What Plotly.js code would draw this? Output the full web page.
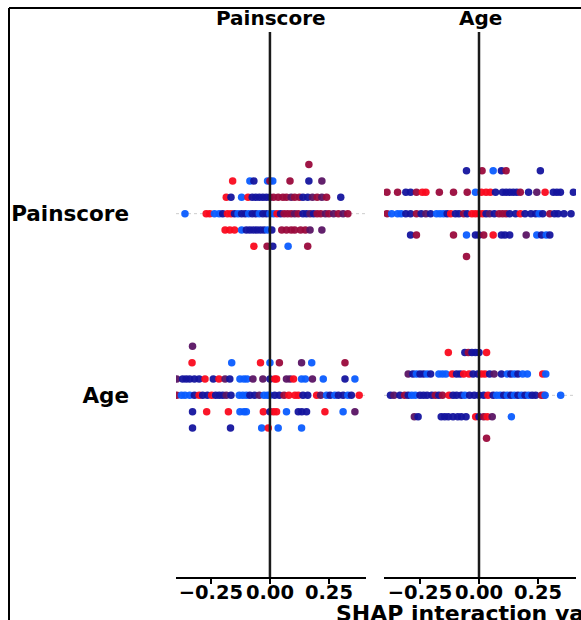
<!DOCTYPE html>
<html>
<head>
<meta charset="utf-8">
<script src="https://cdn.plot.ly/plotly-3.0.1.min.js"></script>
<style>html,body{margin:0;padding:0;background:#fff}</style>
</head>
<body>
<div id="chart" style="width:581px;height:620px"></div>
<script>
// Features (rows top->bottom) and columns
const features = ["Painscore", "Age"];
const rowPos = [1, 0];            // y position of each feature row
const tickVals = [-0.25, 0, 0.25];

// Colour codes (feature value): 0 = low (blue) ... 1 = high (red)
// ---- Column "Painscore", row "Painscore"
const pp_x = [0.165,
  -0.158,-0.085,-0.068,-0.01,0.0,0.012,0.085,0.165,0.22,
  -0.185,-0.165,-0.12,-0.093,-0.075,-0.06,-0.045,-0.03,-0.015,0.0,0.015,0.035,0.055,0.07,0.09,0.105,0.125,0.14,0.16,0.18,0.2,0.22,0.24,0.30,
  -0.36,-0.27,-0.255,-0.235,-0.215,-0.2,-0.18,-0.165,-0.15,-0.135,-0.12,-0.105,-0.09,-0.075,-0.06,-0.045,-0.03,-0.015,0.0,0.015,0.03,0.045,0.06,0.075,0.09,0.105,0.12,0.14,0.155,0.17,0.185,0.2,0.215,0.235,0.25,0.27,0.29,0.31,0.33,
  -0.19,-0.17,-0.15,-0.12,-0.1,-0.085,-0.07,-0.055,-0.04,-0.025,-0.01,0.008,0.05,0.07,0.09,0.105,0.13,0.15,0.17,0.22,
  -0.068,-0.012,0.012,0.077,0.16];
const pp_row = [3,
  2,2,2,2,2,2,2,2,2,
  1,1,1,1,1,1,1,1,1,1,1,1,1,1,1,1,1,1,1,1,1,1,1,1,
  0,0,0,0,0,0,0,0,0,0,0,0,0,0,0,0,0,0,0,0,0,0,0,0,0,0,0,0,0,0,0,0,0,0,0,0,0,0,0,
  -1,-1,-1,-1,-1,-1,-1,-1,-1,-1,-1,-1,-1,-1,-1,-1,-1,-1,-1,-1,
  -2,-2,-2,-2,-2];
const pp_c = [0.75,
  1,0,0.25,0,0.75,0,0.75,0.25,0.5,
  1,0.25,0,1,0.25,0.25,0.25,0.25,0.25,0.25,0.75,0.75,0.75,0.75,0.5,0.75,0.75,0.25,0.25,0.5,0.75,0.5,0.75,0.25,
  0,1,1,0,0,0.25,1,1,0.25,0,0.25,0.25,0,0.25,0.25,0,0.25,0.25,0,0,1,0.25,0.75,0.75,0.75,0.5,0.75,0.25,0.25,0.5,0.25,0.75,0.75,0.5,0.75,0.5,0.75,0.5,0.75,
  1,1,1,0,0.25,0.25,0.25,0.25,0.25,0.25,0,0.25,0.75,0.75,0.75,0.75,0.75,0.75,0.5,0.5,
  1,0.75,0.25,0,0.75];

// ---- Column "Age", row "Painscore"
const ap_x = [-0.053,0.013,0.06,0.095,0.115,0.26,
  -0.39,-0.345,-0.31,-0.29,-0.265,-0.24,-0.225,-0.168,-0.108,-0.05,-0.015,0.01,0.03,0.048,0.07,0.1,0.115,0.13,0.145,0.16,0.175,0.21,0.245,0.28,0.315,0.33,0.345,0.40,
  -0.39,-0.37,-0.345,-0.33,-0.31,-0.29,-0.265,-0.245,-0.225,-0.205,-0.18,-0.165,-0.15,-0.135,-0.12,-0.1,-0.085,-0.065,-0.05,-0.03,-0.015,0.0,0.015,0.03,0.045,0.065,0.085,0.1,0.115,0.13,0.155,0.175,0.195,0.22,0.24,0.255,0.27,0.3,0.32,0.335,0.36,0.39,
  -0.29,-0.265,-0.108,-0.053,-0.015,0.0,0.02,0.06,0.095,0.11,0.13,0.2,0.245,0.265,0.285,0.3,
  -0.053];
const ap_row = [2,2,2,2,2,2,
  1,1,1,1,1,1,1,1,1,1,1,1,1,1,1,1,1,1,1,1,1,1,1,1,1,1,1,1,
  0,0,0,0,0,0,0,0,0,0,0,0,0,0,0,0,0,0,0,0,0,0,0,0,0,0,0,0,0,0,0,0,0,0,0,0,0,0,0,0,0,0,
  -1,-1,-1,-1,-1,-1,-1,-1,-1,-1,-1,-1,-1,-1,-1,-1,
  -2];
const ap_c = [0.25,0.75,0,0.25,0.75,0.25,
  0.75,0.75,0.25,0.25,0.75,1,1,0.75,0.75,0.75,0,1,1,1,0.25,0.25,0.25,0.25,0.25,0.25,0.75,0.25,0.5,1,0.25,0.25,0.25,0.25,
  0.75,0,0,0,0.25,0.25,0.75,0.25,0.5,0.25,0,0,0,0.25,1,0.25,0.25,0.75,0.25,1,1,1,1,0.25,0.5,0.25,0.75,0.75,0.75,0.25,0.25,1,0.25,0.25,0.25,0,0.25,0.75,0.25,0.25,0.25,0.25,
  0.25,0.75,0.75,0,0.25,0.25,0.75,1,0.25,0.25,0.25,0.5,0,0.25,0,0.25,
  0.75];

// ---- Column "Painscore", row "Age"
const pa_x = [-0.328,
  -0.33,-0.162,-0.04,0.0,0.04,0.134,0.177,0.318,
  -0.395,-0.37,-0.355,-0.34,-0.32,-0.3,-0.275,-0.24,-0.216,-0.19,-0.17,-0.127,-0.11,-0.097,-0.072,-0.03,0.0,0.02,0.028,0.07,0.085,0.1,0.134,0.15,0.18,0.226,0.318,0.36,
  -0.395,-0.375,-0.36,-0.34,-0.32,-0.3,-0.285,-0.265,-0.247,-0.23,-0.215,-0.2,-0.185,-0.165,-0.13,-0.115,-0.1,-0.085,-0.065,-0.045,-0.025,-0.01,0.0,0.02,0.04,0.06,0.08,0.106,0.12,0.14,0.16,0.198,0.215,0.24,0.255,0.275,0.29,0.31,0.33,0.345,0.378,
  -0.328,-0.268,-0.176,-0.127,-0.11,-0.1,-0.028,0.0,0.015,0.028,0.07,0.12,0.135,0.155,0.233,0.31,0.36,
  -0.328,-0.167,-0.035,-0.007,0.035,0.134];
const pa_row = [3,
  2,2,2,2,2,2,2,2,
  1,1,1,1,1,1,1,1,1,1,1,1,1,1,1,1,1,1,1,1,1,1,1,1,1,1,1,1,
  0,0,0,0,0,0,0,0,0,0,0,0,0,0,0,0,0,0,0,0,0,0,0,0,0,0,0,0,0,0,0,0,0,0,0,0,0,0,0,0,0,
  -1,-1,-1,-1,-1,-1,-1,-1,-1,-1,-1,-1,-1,-1,-1,-1,-1,
  -2,-2,-2,-2,-2,-2];
const pa_c = [0.5,
  1,0,1,0,0.75,0.5,0,0.75,
  0.5,0.25,0.25,0.25,0.25,0.25,1,0.25,1,0.5,0.25,0,0,0,0.5,0.5,0.25,1,1,0.5,0.5,1,0,0,0.5,0,0.25,0,
  0.75,0,0,0,0.25,1,0.25,0.25,1,0.25,0.25,0.25,0.5,0.25,0,0,0,0.25,0.25,0.5,0,0,0,0.25,0.25,0.75,1,1,1,0.25,0.25,1,0.5,0,0.25,0,0.25,0.25,0,0.25,1,
  0.25,1,1,0,0,0,1,0.25,1,1,0,0.25,0.25,0.25,1,0,0.5,
  0.25,0.25,0,1,0,0];

// ---- Column "Age", row "Age"
const aa_x = [-0.13,-0.06,-0.045,-0.03,-0.015,0.0,0.032,
  -0.3,-0.28,-0.265,-0.25,-0.235,-0.22,-0.205,-0.17,-0.155,-0.14,-0.113,-0.095,-0.08,-0.065,-0.042,-0.025,-0.005,0.01,0.025,0.045,0.064,0.095,0.12,0.135,0.15,0.165,0.185,0.205,0.27,0.283,
  -0.375,-0.36,-0.335,-0.315,-0.3,-0.285,-0.27,-0.25,-0.235,-0.22,-0.2,-0.185,-0.17,-0.155,-0.127,-0.11,-0.095,-0.075,-0.06,-0.04,-0.02,0.0,0.02,0.038,0.06,0.075,0.09,0.105,0.12,0.135,0.15,0.165,0.18,0.195,0.21,0.225,0.24,0.265,0.275,0.28,0.346,
  -0.274,-0.258,-0.16,-0.145,-0.13,-0.11,-0.09,-0.075,-0.055,-0.014,0.0,0.02,0.035,0.056,0.137,
  0.032];
const aa_row = [2,2,2,2,2,2,2,
  1,1,1,1,1,1,1,1,1,1,1,1,1,1,1,1,1,1,1,1,1,1,1,1,1,1,1,1,1,1,
  0,0,0,0,0,0,0,0,0,0,0,0,0,0,0,0,0,0,0,0,0,0,0,0,0,0,0,0,0,0,0,0,0,0,0,0,0,0,0,0,0,
  -1,-1,-1,-1,-1,-1,-1,-1,-1,-1,-1,-1,-1,-1,-1,
  -2];
const aa_c = [1,0.25,0.75,0.25,0.25,0.25,1,
  0.5,0.25,0,0.25,0.25,0,0.25,0,0,0,1,0.25,0.25,1,1,0.25,0.25,1,1,0.25,0.5,0.25,0,0.25,0,0.25,0,0,1,0,
  0.25,0.5,0.25,0.75,0.25,0,0,0.25,0.25,0.25,0.25,0.75,0.25,0.75,1,0.25,0.25,0.25,0,0.25,0.25,0.25,0.25,1,0.25,0,0,0.25,0,0.25,0,0.25,0,0.25,0,0.25,0.25,0.75,1,0,0,
  0.5,0.25,0.25,0.25,0.25,0.25,0.25,0.25,0.25,1,0.25,0.75,1,0.5,0,
  0.75];

const colorscale = [[0,'#0a5cff'],[0.25,'#14149e'],[0.5,'#5a1464'],[0.75,'#9a0a3c'],[1,'#fa0a1e']];
const FONT = 'DejaVu Sans, Verdana, sans-serif';

function swarm(xs, rows, cs, base, spacing, xa, ya) {
  return {
    type: 'scatter', mode: 'markers',
    x: xs, y: rows.map(r => base + r * spacing),
    xaxis: xa, yaxis: ya, hoverinfo: 'skip',
    marker: {size: 7.5, color: cs, cmin: 0, cmax: 1, colorscale: colorscale, opacity: 0.95, line: {width: 0}}
  };
}

const sp1 = 0.09, sp2 = 0.118;
const traces = [
  swarm(pp_x, pp_row, pp_c, rowPos[0], sp1, 'x', 'y'),
  swarm(pa_x, pa_row, pa_c, rowPos[1], sp1, 'x', 'y'),
  swarm(ap_x, ap_row, ap_c, rowPos[0], sp2, 'x2', 'y2'),
  swarm(aa_x, aa_row, aa_c, rowPos[1], sp2, 'x2', 'y2')
];

const W = 581, H = 620;
const ydom = [1 - 577 / H, 1 - 32 / H];
const xaxisBase = {
  showgrid: false, zeroline: false, showline: true, linecolor: '#000', linewidth: 1.6,
  ticks: 'outside', ticklen: 5, tickwidth: 1.5, tickcolor: '#000',
  tickvals: tickVals, tickformat: '.2f', ticklabelstandoff: -8,
  tickfont: {family: FONT, size: 19.5, color: '#000', weight: 'bold'}, fixedrange: true
};
const yaxisBase = {
  domain: ydom, range: [-1, 2], showgrid: false, zeroline: false, showline: false, fixedrange: true
};

const shapes = [];
['x', 'x2'].forEach((xa, i) => {
  const ya = i === 0 ? 'y' : 'y2';
  rowPos.forEach(r => shapes.push({type: 'line', xref: xa + ' domain', yref: ya, x0: 0, x1: 1, y0: r, y1: r,
    line: {color: '#cccccc', width: 1, dash: 'dot'}, layer: 'below'}));
  shapes.push({type: 'line', xref: xa, yref: ya + ' domain', x0: 0, x1: 0, y0: 0, y1: 1,
    line: {color: '#1a1a1a', width: 2.5}, layer: 'above'});
});
// outer frame (left and top)
shapes.push({type: 'line', xref: 'paper', yref: 'paper', x0: 9 / W, x1: 9 / W, y0: 0, y1: 1 - 8 / H, line: {color: '#000', width: 2}});
shapes.push({type: 'line', xref: 'paper', yref: 'paper', x0: 9 / W, x1: 1, y0: 1 - 8 / H, y1: 1 - 8 / H, line: {color: '#000', width: 2}});

const titleFont = {family: FONT, size: 20, color: '#000', weight: 'bold'};
const xlabFont = {family: FONT, size: 22, color: '#000', weight: 'bold'};
const layout = {
  width: W, height: H, margin: {l: 0, r: 0, t: 0, b: 0},
  paper_bgcolor: '#fff', plot_bgcolor: '#fff', showlegend: false,
  xaxis: Object.assign({}, xaxisBase, {domain: [176 / W, 366 / W], range: [-0.398, 0.407], anchor: 'y'}),
  xaxis2: Object.assign({}, xaxisBase, {domain: [384 / W, 576 / W], range: [-0.4025, 0.411], anchor: 'y2'}),
  yaxis: Object.assign({}, yaxisBase, {anchor: 'x', tickvals: rowPos, ticktext: features, ticks: '',
    ticklabelstandoff: 46, tickfont: {family: FONT, size: 21.5, color: '#000', weight: 'bold'}}),
  yaxis2: Object.assign({}, yaxisBase, {anchor: 'x2', matches: 'y', showticklabels: false}),
  shapes: shapes,
  annotations: [
    {text: features[0], xref: 'x domain', yref: 'paper', x: 0.5, y: 1 - 18 / H, xanchor: 'center', yanchor: 'middle', showarrow: false, font: titleFont},
    {text: features[1], xref: 'x2 domain', yref: 'paper', x: 0.5, y: 1 - 18 / H, xanchor: 'center', yanchor: 'middle', showarrow: false, font: titleFont},
    {text: 'SHAP interaction value', xref: 'paper', yref: 'paper', x: 334 / W, y: 1 - 613 / H, xanchor: 'left', yanchor: 'middle', showarrow: false, font: xlabFont}
  ]
};

Plotly.newPlot('chart', traces, layout, {staticPlot: true, displayModeBar: false});
</script>
</body>
</html>
